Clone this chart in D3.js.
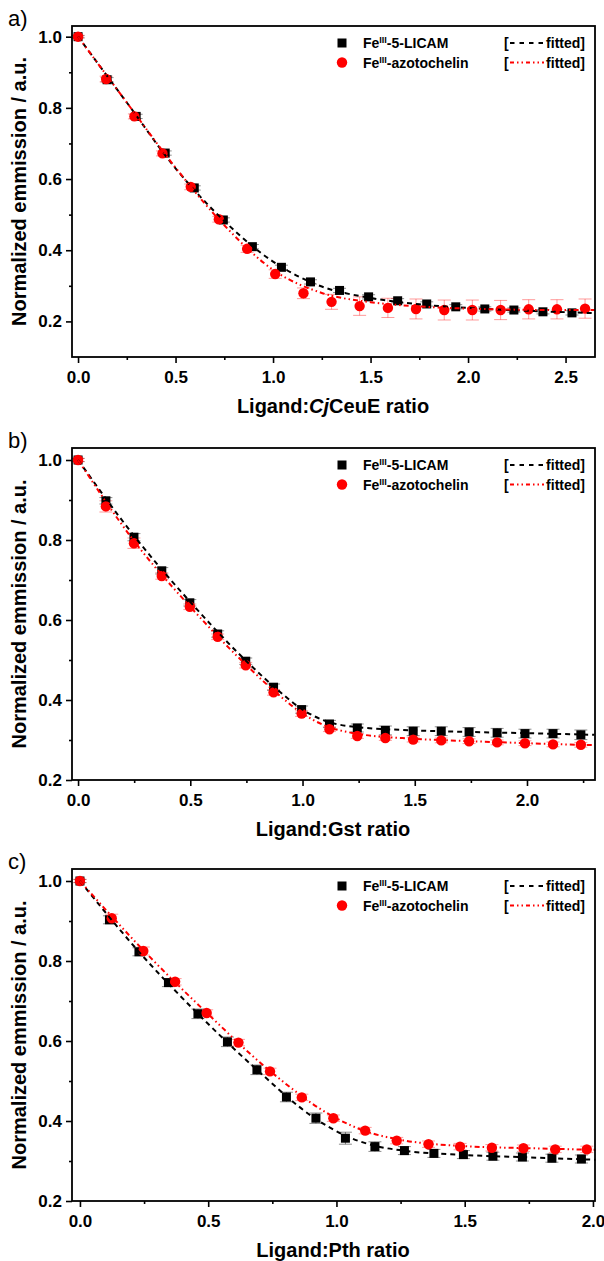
<!DOCTYPE html>
<html>
<head>
<meta charset="utf-8">
<script src="https://cdn.jsdelivr.net/npm/d3@7"></script>
<style>
  body { margin: 0; background: #fff; }
  svg { display: block; font-family: 'Liberation Sans', Arial, sans-serif; }
</style>
</head>
<body>
<div id="chart"></div>
<script>
'use strict';

// Panel a) - CjCeuE titration
const xA_licam = [0, 0.149, 0.298, 0.447, 0.596, 0.745, 0.894, 1.043, 1.192, 1.341, 1.49, 1.639, 1.788, 1.937, 2.086, 2.235, 2.384, 2.533];
const yA_licam = [1.0, 0.879, 0.776, 0.673, 0.575, 0.485, 0.41, 0.352, 0.311, 0.287, 0.269, 0.258, 0.249, 0.241, 0.235, 0.232, 0.227, 0.224];
const eA_licam = [0.003, 0.006, 0.006, 0.006, 0.006, 0.006, 0.006, 0.006, 0.006, 0.006, 0.006, 0.006, 0.006, 0.006, 0.006, 0.006, 0.006, 0.006];
const xA_azo = [0, 0.144, 0.289, 0.433, 0.578, 0.722, 0.867, 1.011, 1.156, 1.3, 1.444, 1.589, 1.733, 1.878, 2.022, 2.167, 2.311, 2.456, 2.6];
const yA_azo = [1.0, 0.881, 0.776, 0.672, 0.578, 0.487, 0.404, 0.333, 0.279, 0.255, 0.243, 0.238, 0.235, 0.232, 0.232, 0.232, 0.234, 0.234, 0.236];
const eA_azo = [0.004, 0.008, 0.007, 0.007, 0.008, 0.008, 0.01, 0.012, 0.015, 0.021, 0.026, 0.027, 0.028, 0.028, 0.028, 0.027, 0.027, 0.027, 0.027];
const fitXA = [0, 0.25, 0.5, 0.75, 1.0, 1.25, 1.5, 1.75, 2.0, 2.25, 2.5, 2.65];
const fitA_licam = [1.0, 0.815, 0.63, 0.482, 0.368, 0.298, 0.266, 0.248, 0.238, 0.231, 0.226, 0.223];
const fitA_azo = [1.0, 0.815, 0.632, 0.47, 0.345, 0.28, 0.254, 0.242, 0.236, 0.233, 0.232, 0.232];

// Panel b) - Gst titration
const xB = [0, 0.124, 0.249, 0.373, 0.498, 0.622, 0.747, 0.871, 0.996, 1.12, 1.244, 1.369, 1.493, 1.618, 1.742, 1.867, 1.991, 2.116, 2.24];
const yB_licam = [1.0, 0.898, 0.807, 0.723, 0.643, 0.565, 0.497, 0.432, 0.376, 0.34, 0.33, 0.324, 0.322, 0.322, 0.32, 0.318, 0.316, 0.316, 0.313];
const eB_licam = [0.004, 0.008, 0.009, 0.008, 0.008, 0.008, 0.008, 0.008, 0.009, 0.009, 0.01, 0.011, 0.011, 0.011, 0.011, 0.011, 0.011, 0.011, 0.012];
const yB_azo = [1.0, 0.884, 0.792, 0.71, 0.633, 0.558, 0.487, 0.419, 0.366, 0.327, 0.31, 0.305, 0.301, 0.299, 0.297, 0.294, 0.292, 0.289, 0.288];
const eB_azo = [0.004, 0.014, 0.013, 0.008, 0.007, 0.007, 0.007, 0.007, 0.007, 0.006, 0.006, 0.006, 0.006, 0.006, 0.006, 0.006, 0.006, 0.006, 0.006];
const fitXB = [0, 0.25, 0.5, 0.75, 0.9, 1.0, 1.1, 1.25, 1.5, 1.75, 2.0, 2.3];
const fitB_licam = [1.0, 0.81, 0.645, 0.497, 0.42, 0.376, 0.348, 0.332, 0.324, 0.32, 0.317, 0.313];
const fitB_azo = [1.0, 0.797, 0.633, 0.487, 0.41, 0.366, 0.336, 0.315, 0.303, 0.297, 0.292, 0.287];

// Panel c) - Pth titration
const xC_licam = [0, 0.115, 0.23, 0.345, 0.46, 0.575, 0.69, 0.805, 0.92, 1.035, 1.15, 1.265, 1.38, 1.495, 1.61, 1.725, 1.84, 1.955];
const yC_licam = [1.0, 0.903, 0.823, 0.746, 0.668, 0.598, 0.528, 0.46, 0.407, 0.357, 0.336, 0.326, 0.319, 0.316, 0.312, 0.31, 0.307, 0.305];
const eC_licam = [0.004, 0.01, 0.01, 0.01, 0.012, 0.012, 0.012, 0.012, 0.013, 0.015, 0.012, 0.01, 0.01, 0.01, 0.01, 0.01, 0.01, 0.01];
const xC_azo = [0, 0.124, 0.247, 0.371, 0.494, 0.618, 0.741, 0.865, 0.988, 1.112, 1.235, 1.359, 1.482, 1.606, 1.729, 1.853, 1.976];
const yC_azo = [1.0, 0.907, 0.825, 0.748, 0.67, 0.596, 0.524, 0.459, 0.407, 0.376, 0.351, 0.342, 0.336, 0.333, 0.332, 0.329, 0.329];
const eC_azo = [0.004, 0.01, 0.01, 0.008, 0.008, 0.008, 0.008, 0.008, 0.008, 0.008, 0.008, 0.008, 0.008, 0.008, 0.008, 0.008, 0.008];
const fitXC_licam = [0, 0.23, 0.46, 0.69, 0.92, 1.04, 1.15, 1.26, 1.5, 1.75, 2.01];
const fitC_licam = [1.0, 0.823, 0.668, 0.528, 0.405, 0.362, 0.338, 0.326, 0.315, 0.309, 0.303];
const fitXC_azo = [0, 0.25, 0.5, 0.75, 0.99, 1.12, 1.25, 1.5, 1.75, 2.01];
const fitC_azo = [1.0, 0.825, 0.667, 0.52, 0.41, 0.373, 0.353, 0.337, 0.332, 0.328];

// Axis ticks
const xTicksA = [0, 0.5, 1.0, 1.5, 2.0, 2.5];
const xMinorA = [0.25, 0.75, 1.25, 1.75, 2.25];
const xTicksB = [0, 0.5, 1.0, 1.5, 2.0];
const xMinorB = [0.25, 0.75, 1.25, 1.75, 2.25];
const xTicksC = [0, 0.5, 1.0, 1.5, 2.0];
const xMinorC = [0.25, 0.75, 1.25, 1.75];
const yTicks = [0.2, 0.4, 0.6, 0.8, 1.0];
const yMinor = [0.3, 0.5, 0.7, 0.9];

const LEFT = 72;
const RIGHT = 595;
const BLACK = '#000';
const RED = '#ff0000';

const svg = d3.select('#chart').append('svg')
  .attr('width', 604)
  .attr('height', 1261);

const zip = (xs, ys, es) => xs.map((v, i) => ({ x: v, y: ys[i], e: es ? es[i] : 0 }));

const panels = [
  {
    label: 'a)', top: 26, bottom: 357, xDomain: [-0.031, 2.651], yDomain: [0.1, 1.03],
    xTicks: xTicksA, xMinor: xMinorA, titleParts: [['Ligand:', 'normal'], ['Cj', 'italic'], ['CeuE ratio', 'normal']],
    licam: zip(xA_licam, yA_licam, eA_licam), azo: zip(xA_azo, yA_azo, eA_azo),
    fitLicam: zip(fitXA, fitA_licam), fitAzo: zip(fitXA, fitA_azo)
  },
  {
    label: 'b)', top: 448, bottom: 780, xDomain: [-0.027, 2.303], yDomain: [0.2, 1.03],
    xTicks: xTicksB, xMinor: xMinorB, titleParts: [['Ligand:Gst ratio', 'normal']],
    licam: zip(xB, yB_licam, eB_licam), azo: zip(xB, yB_azo, eB_azo),
    fitLicam: zip(fitXB, fitB_licam), fitAzo: zip(fitXB, fitB_azo)
  },
  {
    label: 'c)', top: 869, bottom: 1201, xDomain: [-0.031, 2.008], yDomain: [0.2, 1.03],
    xTicks: xTicksC, xMinor: xMinorC, titleParts: [['Ligand:Pth ratio', 'normal']],
    licam: zip(xC_licam, yC_licam, eC_licam), azo: zip(xC_azo, yC_azo, eC_azo),
    fitLicam: zip(fitXC_licam, fitC_licam), fitAzo: zip(fitXC_azo, fitC_azo)
  }
];

// Bold tick styling shared by all axes
function styleAxis(sel, withText) {
  sel.select('.domain').remove();
  sel.selectAll('.tick line').attr('stroke', BLACK).attr('stroke-width', 1.6);
  if (withText) {
    sel.selectAll('.tick text')
      .attr('fill', BLACK)
      .style('font-size', '17px')
      .style('font-weight', 'bold');
  }
}

// Error bars with caps
function drawErrors(g, data, x, y, color) {
  const cap = 6.5;
  const eg = g.append('g').attr('stroke', color).attr('stroke-width', 1);
  data.forEach(d => {
    const px = x(d.x), y0 = y(d.y - d.e), y1 = y(d.y + d.e);
    eg.append('line').attr('x1', px).attr('x2', px).attr('y1', y0).attr('y2', y1);
    eg.append('line').attr('x1', px - cap).attr('x2', px + cap).attr('y1', y0).attr('y2', y0);
    eg.append('line').attr('x1', px - cap).attr('x2', px + cap).attr('y1', y1).attr('y2', y1);
  });
}

function drawPanel(p) {
  const x = d3.scaleLinear().domain(p.xDomain).range([LEFT, RIGHT]);
  const y = d3.scaleLinear().domain(p.yDomain).range([p.bottom, p.top]);
  const g = svg.append('g');

  // Axes (ticks outside the frame)
  g.append('g').attr('transform', `translate(0,${p.bottom})`)
    .call(d3.axisBottom(x).tickValues(p.xTicks).tickSize(6).tickPadding(8).tickFormat(d3.format('.1f')))
    .call(s => styleAxis(s, true));
  g.append('g').attr('transform', `translate(0,${p.bottom})`)
    .call(d3.axisBottom(x).tickValues(p.xMinor).tickSize(3).tickFormat(''))
    .call(s => styleAxis(s, false));
  g.append('g').attr('transform', `translate(${LEFT},0)`)
    .call(d3.axisLeft(y).tickValues(yTicks).tickSize(6).tickPadding(4).tickFormat(d3.format('.1f')))
    .call(s => styleAxis(s, true));
  g.append('g').attr('transform', `translate(${LEFT},0)`)
    .call(d3.axisLeft(y).tickValues(yMinor).tickSize(3).tickFormat(''))
    .call(s => styleAxis(s, false));

  // Error bars, then markers, then fitted curves on top
  drawErrors(g, p.licam, x, y, 'rgba(0,0,0,0.45)');
  drawErrors(g, p.azo, x, y, 'rgba(255,0,0,0.4)');

  g.append('g').selectAll('rect')
    .data(p.licam)
    .enter().append('rect')
    .attr('x', d => x(d.x) - 4.5)
    .attr('y', d => y(d.y) - 4.5)
    .attr('width', 9)
    .attr('height', 9)
    .attr('fill', BLACK);

  g.append('g').selectAll('circle')
    .data(p.azo)
    .enter().append('circle')
    .attr('cx', d => x(d.x))
    .attr('cy', d => y(d.y))
    .attr('r', 5.2)
    .attr('fill', RED);

  const line = d3.line().curve(d3.curveMonotoneX).x(d => x(d.x)).y(d => y(d.y));
  g.append('path').datum(p.fitLicam)
    .attr('d', line).attr('fill', 'none')
    .attr('stroke', BLACK).attr('stroke-width', 2).attr('stroke-dasharray', '5,4');
  g.append('path').datum(p.fitAzo)
    .attr('d', line).attr('fill', 'none')
    .attr('stroke', RED).attr('stroke-width', 2).attr('stroke-dasharray', '5,3,1.5,3,1.5,3');

  // Frame
  g.append('rect')
    .attr('x', LEFT).attr('y', p.top)
    .attr('width', RIGHT - LEFT).attr('height', p.bottom - p.top)
    .attr('fill', 'none').attr('stroke', BLACK).attr('stroke-width', 1.8);

  // Axis titles
  const xt = g.append('text')
    .attr('x', 333).attr('y', p.bottom + 56)
    .attr('text-anchor', 'middle')
    .style('font-size', '20px').style('font-weight', 'bold');
  p.titleParts.forEach(t => xt.append('tspan').style('font-style', t[1]).text(t[0]));

  g.append('text')
    .attr('transform', `translate(26,${(p.top + p.bottom) / 2}) rotate(-90)`)
    .attr('text-anchor', 'middle')
    .style('font-size', '20px').style('font-weight', 'bold')
    .text('Normalized emmission / a.u.');

  // Panel label
  g.append('text')
    .attr('x', 8).attr('y', p.top)
    .style('font-size', '22px')
    .text(p.label);

  drawLegend(g, p.top);
}

// Legend: marker, name with superscript, and "[ line fitted]" sample
function drawLegend(g, top) {
  const rows = [
    { name: '-5-LICAM', color: BLACK, shape: 'square', dash: '4.5,5', dy: 17 },
    { name: '-azotochelin', color: RED, shape: 'circle', dash: '4,3,1.5,3,1.5,3', dy: 36.5 }
  ];
  rows.forEach(r => {
    const cy = top + r.dy;
    if (r.shape === 'square') {
      g.append('rect').attr('x', 337.5).attr('y', cy - 4.5).attr('width', 9).attr('height', 9).attr('fill', r.color);
    } else {
      g.append('circle').attr('cx', 342).attr('cy', cy).attr('r', 5.2).attr('fill', r.color);
    }
    const t = g.append('text')
      .attr('x', 363).attr('y', cy + 5)
      .style('font-size', '14px').style('font-weight', 'bold');
    t.append('tspan').text('Fe');
    t.append('tspan').attr('dy', -5).style('font-size', '9px').text('III');
    t.append('tspan').attr('dy', 5).text(r.name);

    g.append('text')
      .attr('x', 504).attr('y', cy + 5)
      .style('font-size', '14px').style('font-weight', 'bold')
      .text('[');
    g.append('line')
      .attr('x1', 510).attr('x2', 544).attr('y1', cy).attr('y2', cy)
      .attr('stroke', r.color).attr('stroke-width', 2).attr('stroke-dasharray', r.dash);
    g.append('text')
      .attr('x', 585).attr('y', cy + 5)
      .attr('text-anchor', 'end')
      .style('font-size', '14px').style('font-weight', 'bold')
      .text('fitted]');
  });
}

panels.forEach(drawPanel);
</script>
</body>
</html>
